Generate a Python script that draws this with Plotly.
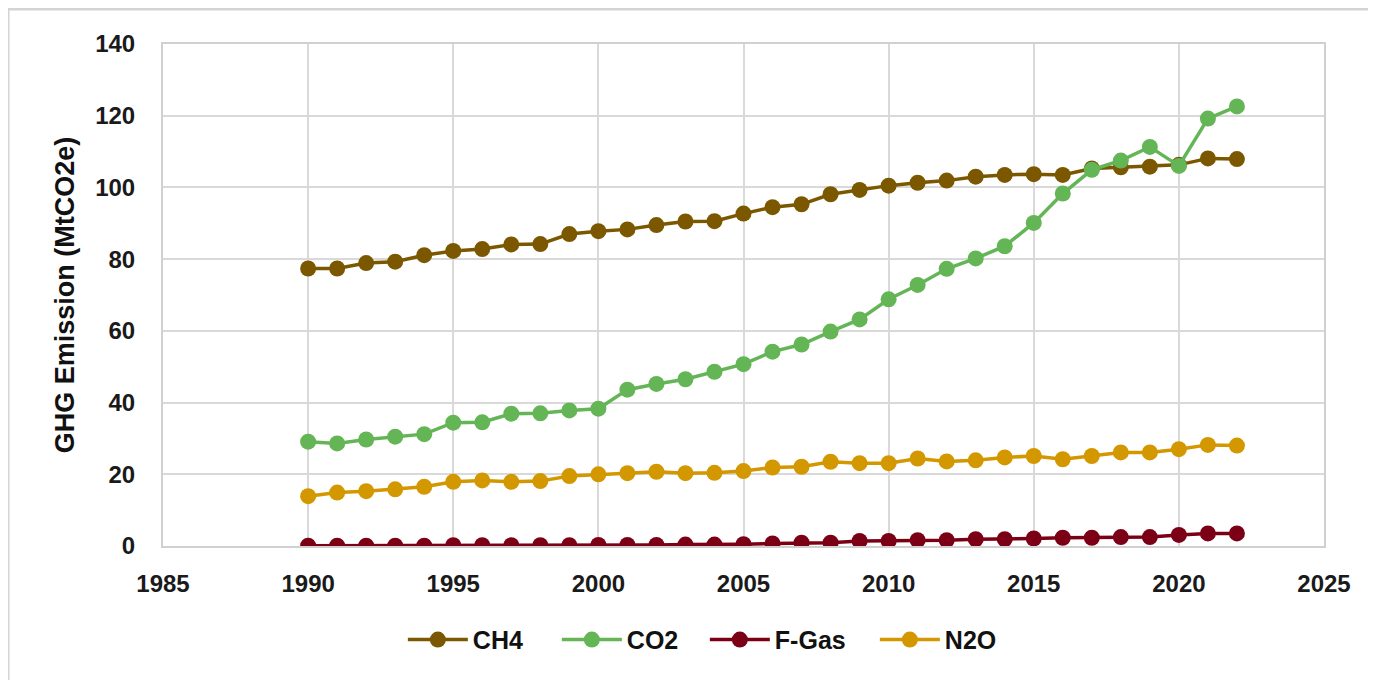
import plotly.graph_objects as go

years = list(range(1990, 2023))

ch4 = [77.4, 77.4, 78.9, 79.3, 81.1, 82.3, 82.8, 84.1, 84.2, 87.0, 87.8,
       88.3, 89.5, 90.5, 90.6, 92.7, 94.5, 95.3, 98.1, 99.3, 100.5,
       101.3, 101.9, 103.0, 103.5, 103.7, 103.5, 105.3, 105.6, 105.8, 106.3,
       108.1, 107.9]

co2 = [29.1, 28.6, 29.7, 30.5, 31.2, 34.4, 34.5, 36.9, 37.0, 37.8, 38.3,
       43.6, 45.2, 46.5, 48.6, 50.7, 54.2, 56.2, 59.8, 63.2, 68.8,
       72.8, 77.3, 80.2, 83.6, 90.1, 98.3, 104.9, 107.5, 111.3, 106.0,
       119.2, 122.6]

fgas = [0.1, 0.1, 0.1, 0.1, 0.1, 0.2, 0.2, 0.2, 0.2, 0.2, 0.3,
        0.3, 0.3, 0.4, 0.4, 0.5, 0.7, 0.9, 0.9, 1.4, 1.4,
        1.6, 1.6, 1.9, 1.9, 2.1, 2.3, 2.3, 2.5, 2.5, 3.1,
        3.5, 3.5]

n2o = [13.9, 14.9, 15.3, 15.8, 16.5, 17.9, 18.3, 17.9, 18.1, 19.5, 20.0,
       20.3, 20.7, 20.3, 20.4, 20.9, 21.9, 22.1, 23.5, 23.1, 23.1,
       24.4, 23.6, 23.9, 24.7, 25.1, 24.2, 25.1, 26.1, 26.1, 27.0,
       28.2, 28.0]

series = [
    ("CH4", ch4, "#7B5800", 79),
    ("CO2", co2, "#64B556", 73),
    ("F-Gas", fgas, "#7C0015", 95),
    ("N2O", n2o, "#D39700", 60),
]

x_ticks = [1985, 1990, 1995, 2000, 2005, 2010, 2015, 2020, 2025]
y_ticks = [0, 20, 40, 60, 80, 100, 120, 140]

FONT = "Liberation Sans, Arial, sans-serif"

fig = go.Figure()
for name, vals, color, lw in series:
    fig.add_trace(go.Scatter(
        x=years, y=vals, name=name, mode="lines+markers",
        line=dict(color=color, width=3.5),
        marker=dict(color=color, size=16),
        legendwidth=lw,
    ))

fig.update_layout(
    width=1376, height=680,
    margin=dict(l=155, r=60, t=36, b=142),
    paper_bgcolor="white", plot_bgcolor="white",
    font=dict(family=FONT, size=24, color="#1a1a1a"),
    showlegend=True,
    legend=dict(
        orientation="h", x=0.468, xanchor="center", y=-0.187, yanchor="middle",
        font=dict(family=FONT, size=25, color="#111111", weight="bold"),
        itemwidth=60, traceorder="normal",
    ),
    xaxis=dict(
        range=[1985, 2025], tickvals=x_ticks, ticktext=[str(v) for v in x_ticks],
        showgrid=True, gridcolor="#d9d9d9", gridwidth=2,
        showline=True, linecolor="#d0d0d0", linewidth=2, mirror=True,
        zeroline=False, ticks="", ticklabelstandoff=15,
        tickfont=dict(family=FONT, size=24, color="#1a1a1a", weight="bold"),
    ),
    yaxis=dict(
        range=[0, 140], tickvals=y_ticks, ticktext=[str(v) for v in y_ticks],
        showgrid=True, gridcolor="#d9d9d9", gridwidth=2,
        showline=True, linecolor="#d0d0d0", linewidth=2, mirror=True,
        zeroline=False, ticks="", ticklabelstandoff=21,
        tickfont=dict(family=FONT, size=24, color="#1a1a1a", weight="bold"),
        title=dict(text="GHG Emission (MtCO2e)", standoff=13,
                   font=dict(family=FONT, size=27, color="#111111", weight="bold")),
    ),
    shapes=[dict(
        type="rect", xref="paper", yref="paper",
        x0=-0.1335, x1=1.2, y0=-0.5, y1=1.0697,
        line=dict(color="#d4d4d4", width=3), fillcolor="rgba(0,0,0,0)", layer="below",
    )],
)

fig.write_html("out.html")
